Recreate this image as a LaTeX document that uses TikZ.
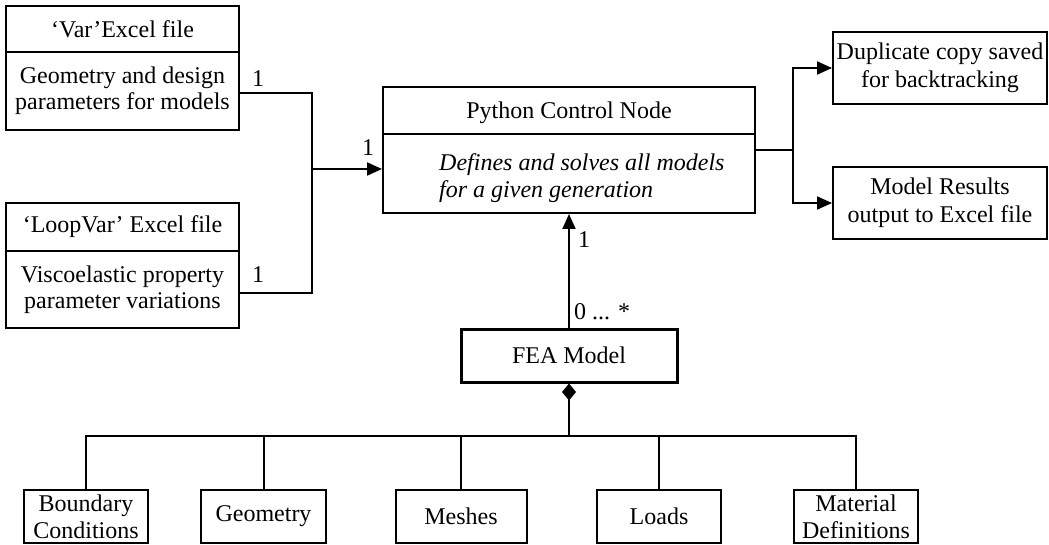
\documentclass[tikz,border=0pt]{standalone}
\usepackage{fontspec}
\setmainfont{Liberation Serif}
\usetikzlibrary{arrows.meta}

\newcommand{\txt}[1]{\fontsize{24}{#1}\selectfont}

\tikzset{
  box/.style={draw, line width=2pt, inner sep=0pt, align=center,
              font=\txt{24}},
  wire/.style={line width=2pt},
  tip/.style={wire, -{Triangle[length=15pt,width=13pt]}},
  mult/.style={inner sep=0pt, font=\txt{24}},
}

\begin{document}
\begin{tikzpicture}[x=1pt, y=-1pt]
  \useasboundingbox (0,0) rectangle (1049,545);

  % input spreadsheets
  \node[box, minimum width=233pt, minimum height=46pt] (varT) at (122.5,29) {‘Var’Excel file};
  \node[box, minimum width=233pt, minimum height=78pt, font=\txt{26}] (varB) at (122.5,91)
    {Geometry and design\\parameters for models};
  \node[box, minimum width=233pt, minimum height=48pt] (loopT) at (122.5,227) {‘LoopVar’ Excel file};
  \node[box, minimum width=233pt, minimum height=77pt, font=\txt{26}] (loopB) at (122.5,289.5)
    {Viscoelastic property\\parameter variations};

  % controller
  \node[box, minimum width=372pt, minimum height=47pt, text depth=0pt] (pyT) at (569,110.5) {Python Control Node};
  \node[box, minimum width=372pt, minimum height=79pt] (pyB) at (569,173.5) {};
  \node[inner sep=0pt, anchor=west, align=left, font=\txt{27}\itshape] (pyTxt) at (439,178)
    {Defines and solves all models\\for a given generation};

  % outputs
  \node[box, minimum width=214pt, minimum height=72pt, font=\txt{28}] (dup) at (940,68)
    {Duplicate copy saved\\for backtracking};
  \node[box, minimum width=214pt, minimum height=72pt, font=\txt{28}] (res) at (940,203)
    {Model Results\\output to Excel file};

  % model and its parts
  \node[box, line width=3pt, minimum width=216pt, minimum height=53pt] (fea) at (569,355.5) {FEA Model};
  \node[box, minimum width=124pt, minimum height=53pt, font=\txt{27}] (c1) at (86,516.5) {Boundary\\Conditions};
  \node[box, minimum width=125pt, minimum height=53pt] (c2) at (263.5,516.5) {Geometry};
  \node[box, minimum width=131pt, minimum height=53pt] (c3) at (461,516.5) {Meshes};
  \node[box, minimum width=124pt, minimum height=53pt] (c4) at (659,516.5) {Loads};
  \node[box, minimum width=124pt, minimum height=53pt, font=\txt{27}] (c5) at (856,516.5) {Material\\Definitions};

  % junctions
  \coordinate (jL) at (312,169);
  \coordinate (jR) at (793,150);
  \coordinate (bus) at (569,436);

  % inputs to controller
  \draw[wire] (varB.east |- 0,93) -| (jL);
  \draw[wire] (loopB.east |- 0,293) -| (jL);
  \draw[tip] (jL) -- (jL -| pyB.west);

  % controller to outputs
  \draw[wire] (jR -| pyB.east) -- (jR);
  \draw[tip] (jR) |- (dup.west);
  \draw[tip] (jR) |- (res.west);

  % model to controller
  \draw[tip] (fea.north) -- (pyB.south);

  % composition
  \draw[wire, {Diamond[length=17pt,width=14pt]}-] (fea.south) -- (bus);
  \draw[wire] (c1.north) |- (bus) -| (c5.north);
  \foreach \c in {c2,c3,c4}
    \draw[wire] (\c.north) -- (\c.north |- bus);

  % multiplicities
  \node[mult] (m1) at (258,79) {1};
  \node[mult] (m2) at (258,275) {1};
  \node[mult] (m3) at (368,148) {1};
  \node[mult] (m4) at (584,240) {1};
  \node[mult, anchor=west] (m5) at (574,312) {0 ... *};
\end{tikzpicture}
\end{document}
